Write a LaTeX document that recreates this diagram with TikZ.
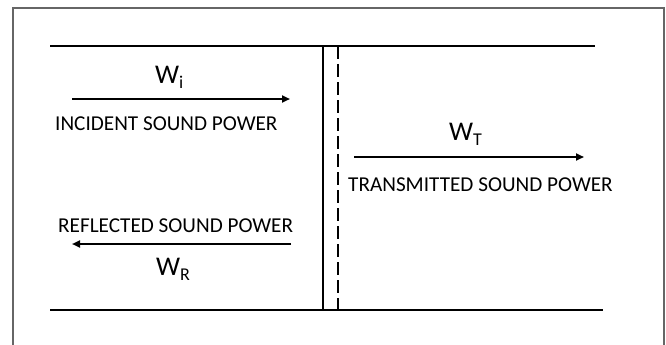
\documentclass[tikz,border=0pt]{standalone}
\usepackage{fontspec}
\setmainfont{Carlito}
\usetikzlibrary{arrows.meta}
\newcommand{\wsub}[1]{\raisebox{-0.22em}{\fontsize{18}{18}\selectfont #1}}
\begin{document}
\begin{tikzpicture}[x=1pt,y=-1pt,
  wall/.style={line width=2pt,black},
  flow/.style={line width=2pt,-{Triangle[length=8pt,width=7pt]}},
  lbl/.style={font=\fontsize{21.2}{24}\selectfont,inner sep=0pt,anchor=base west},
  sym/.style={font=\fontsize{27}{30}\selectfont,inner sep=0pt,anchor=base west}]
\useasboundingbox (0,0) rectangle (666,345);
\fill[white] (0,0) rectangle (666,345);
% frame
\draw[gray!80!black,line width=1.5pt] (13,346) -- (13,8) -- (664,8) -- (664,346);
% duct walls
\coordinate (tl) at (50,46); \coordinate (tr) at (595,46);
\coordinate (bl) at (50,310); \coordinate (br) at (603,310);
\draw[wall] (tl) -- (tr);
\draw[wall] (bl) -- (br);
% partition
\coordinate (s1) at (323,46); \coordinate (s2) at (323,310);
\coordinate (d1) at (338,46); \coordinate (d2) at (338,310);
\draw[wall] (s1) -- (s2);
\draw[line width=2.4pt,dash pattern=on 13pt off 5pt] (d1) -- (d2);
% incident
\coordinate (ia) at (72,99); \coordinate (ib) at (290,99);
\draw[flow] (ia) -- (ib);
\node[sym] (wi) at (155,83) {W\wsub{i}};
\node[lbl] (itxt) at (55,130) {INCIDENT SOUND POWER};
% transmitted
\coordinate (ta) at (354,157); \coordinate (tb) at (584,157);
\draw[flow] (ta) -- (tb);
\node[sym] (wt) at (449,140) {W\wsub{T}};
\node[lbl] (ttxt) at (348,191) {TRANSMITTED SOUND POWER};
% reflected
\coordinate (ra) at (291,244); \coordinate (rb) at (72,244);
\draw[flow] (ra) -- (rb);
\node[lbl] (rtxt) at (58,232) {REFLECTED SOUND POWER};
\node[sym] (wr) at (156,275) {W\wsub{R}};
\end{tikzpicture}
\end{document}
